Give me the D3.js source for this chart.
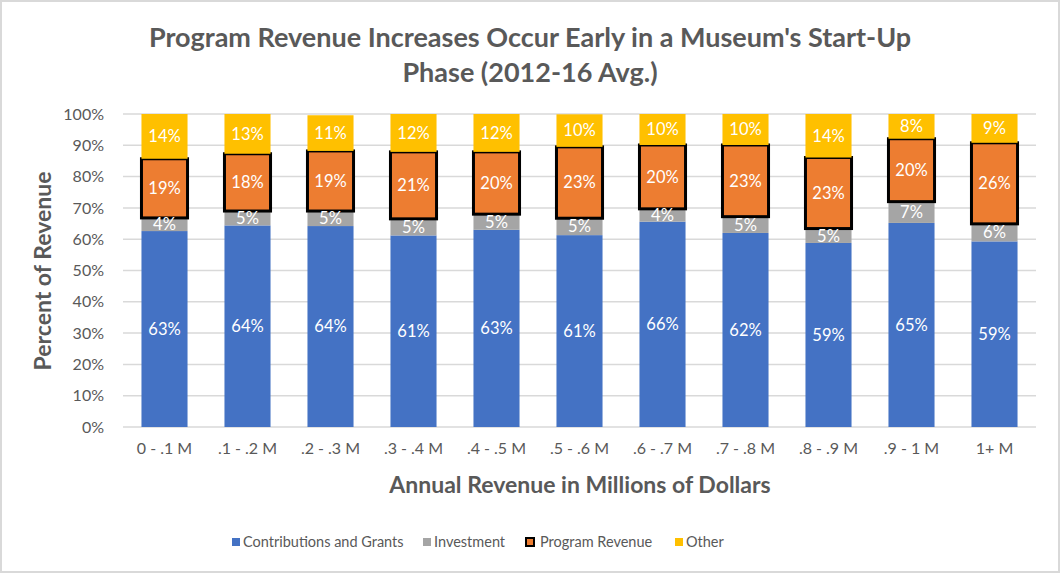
<!DOCTYPE html>
<html>
<head>
<meta charset="utf-8">
<script src="https://cdn.jsdelivr.net/npm/d3@7"></script>
<style>
  body { margin: 0; background: #fff; }
  svg text { font-family: Lato, "Open Sans", sans-serif; }
</style>
</head>
<body>
<div id="chart"></div>
<script>
var width = 1060;
var height = 573;

// data
var categories = ["0 - .1 M", ".1 - .2 M", ".2 - .3 M", ".3 - .4 M", ".4 - .5 M", ".5 - .6 M",
                  ".6 - .7 M", ".7 - .8 M", ".8 - .9 M", ".9 - 1 M", "1+ M"];
var contributions = [62.6, 64.4, 64.2, 61.2, 63.0, 61.3, 65.6, 62.0, 58.8, 65.2, 59.3];
var investment    = [4.2, 4.6, 4.8, 5.3, 5.0, 5.4, 4.1, 5.2, 4.6, 6.8, 5.6];
var program       = [18.9, 18.3, 19.2, 21.4, 19.9, 22.8, 20.4, 22.9, 22.7, 20.1, 25.9];
var other         = [14.3, 12.7, 11.4, 12.1, 12.1, 10.4, 9.9, 9.9, 13.9, 7.9, 9.2];
var seriesNames = ["Contributions and Grants", "Investment", "Program Revenue", "Other"];
var seriesColors = ["#4472c4", "#a5a5a5", "#ed7d31", "#ffc000"];
var yTicks = [0, 10, 20, 30, 40, 50, 60, 70, 80, 90, 100];

var plotLeft = 123, plotRight = 1036, plotTop = 114, plotBottom = 427;

var svg = d3.select("#chart").append("svg")
    .attr("width", width)
    .attr("height", height);

// chart border
svg.append("rect")
    .attr("x", 1).attr("y", 1)
    .attr("width", width - 2).attr("height", height - 2)
    .attr("fill", "#fff")
    .attr("stroke", "#d9d9d9")
    .attr("stroke-width", 2);

var x = d3.scaleBand().domain(categories).range([plotLeft, plotRight]).paddingInner(0.445).paddingOuter(0.2225);
var y = d3.scaleLinear().domain([0, 100]).range([plotBottom, plotTop]);

// gridlines
svg.append("g").selectAll("line")
    .data(yTicks)
    .enter().append("line")
    .attr("x1", plotLeft).attr("x2", plotRight)
    .attr("y1", function (d) { return y(d); })
    .attr("y2", function (d) { return y(d); })
    .attr("stroke", "#d9d9d9")
    .attr("stroke-width", 1.5);

// y axis
var yAxis = svg.append("g")
    .attr("transform", "translate(" + (plotLeft - 16) + ",0)")
    .call(d3.axisLeft(y).tickValues(yTicks).tickSize(0).tickFormat(function (d) { return d + "%"; }));
yAxis.select(".domain").remove();
yAxis.selectAll("text").attr("font-size", 16).attr("fill", "#595959");

// x axis
var xAxis = svg.append("g")
    .attr("transform", "translate(0," + plotBottom + ")")
    .call(d3.axisBottom(x).tickSize(0));
xAxis.select(".domain").remove();
xAxis.selectAll("text").attr("font-size", 16).attr("fill", "#595959").attr("dy", "1.5em");

// build stacked table
var rows = categories.map(function (c, i) {
    return { cat: c, s0: contributions[i], s1: investment[i], s2: program[i], s3: other[i] };
});
var stack = d3.stack().keys(["s0", "s1", "s2", "s3"])(rows);

stack.forEach(function (layer, k) {
    svg.append("g").selectAll("rect")
        .data(layer)
        .enter().append("rect")
        .attr("x", function (d) { return x(d.data.cat); })
        .attr("y", function (d) { return y(d[1]); })
        .attr("width", x.bandwidth())
        .attr("height", function (d) { return y(d[0]) - y(d[1]); })
        .attr("fill", seriesColors[k])
        .attr("stroke", k == 2 ? "#000" : "none")
        .attr("stroke-width", k == 2 ? 3 : 0);
});

// labels on top of everything
stack.forEach(function (layer, k) {
    svg.append("g").selectAll("text")
        .data(layer)
        .enter().append("text")
        .attr("x", function (d) { return x(d.data.cat) + x.bandwidth() / 2; })
        .attr("y", function (d) { return (y(d[0]) + y(d[1])) / 2; })
        .attr("dy", "0.35em")
        .attr("text-anchor", "middle")
        .attr("font-size", 16.5)
        .attr("fill", "#fff")
        .text(function (d) { return Math.round(d[1] - d[0]) + "%"; });
});

// title
svg.append("text")
    .attr("x", 530).attr("y", 47)
    .attr("text-anchor", "middle")
    .attr("font-size", 27).attr("font-weight", "bold").attr("fill", "#595959")
    .text("Program Revenue Increases Occur Early in a Museum's Start-Up");
svg.append("text")
    .attr("x", 530).attr("y", 82)
    .attr("text-anchor", "middle")
    .attr("font-size", 27).attr("font-weight", "bold").attr("fill", "#595959")
    .text("Phase (2012-16 Avg.)");

// axis titles
svg.append("text")
    .attr("transform", "translate(51,271) rotate(-90)")
    .attr("text-anchor", "middle")
    .attr("font-size", 23).attr("font-weight", "bold").attr("fill", "#595959")
    .text("Percent of Revenue");
svg.append("text")
    .attr("x", 580).attr("y", 493)
    .attr("text-anchor", "middle")
    .attr("font-size", 23).attr("font-weight", "bold").attr("fill", "#595959")
    .text("Annual Revenue in Millions of Dollars");

// legend
var legendX = [232, 423, 526, 675];
var legend = svg.append("g").selectAll("g")
    .data(seriesNames)
    .enter().append("g")
    .attr("transform", function (d, i) { return "translate(" + legendX[i] + ",538)"; });
legend.append("rect")
    .attr("width", 8).attr("height", 8)
    .attr("fill", function (d, i) { return seriesColors[i]; })
    .attr("stroke", function (d, i) { return i == 2 ? "#000" : "none"; })
    .attr("stroke-width", 2);
legend.append("text")
    .attr("x", function (d, i) { return i == 2 ? 14 : 11; })
    .attr("y", 4).attr("dy", "0.35em")
    .attr("font-size", 14.5).attr("fill", "#595959")
    .text(function (d) { return d; });
</script>
</body>
</html>
